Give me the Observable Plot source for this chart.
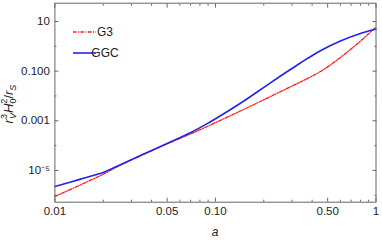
<!DOCTYPE html>
<html><head><meta charset="utf-8">
<script src="https://cdn.jsdelivr.net/npm/d3@7"></script>
<script src="https://cdn.jsdelivr.net/npm/@observablehq/plot@0.6"></script>
<style>body{margin:0;background:#fff}</style>
</head><body><div id="chart"></div>
<script>
// GGC (blue, solid)
const ggcA = [0.01, 0.01443, 0.02016, 0.02442, 0.03412, 0.05499, 0.06987, 0.08878, 0.1126, 0.1431, 0.1818, 0.2201, 0.2728, 0.3382, 0.4506, 0.6002, 0.7995, 1];
const ggcV = [2.265e-6, 4.46e-6, 8.45e-6, 1.47e-5, 4.01e-5, 1.61e-4, 3.30e-4, 7.66e-4, 1.92e-3, 5.08e-3, 0.01449, 0.03396, 0.0859, 0.2133, 0.667, 1.64, 3.28, 4.99];
// G3 (red, dash-dot)
const g3A = [0.01, 0.02016, 0.02442, 0.03412, 0.05499, 0.06987, 0.08878, 0.1126, 0.1431, 0.1818, 0.2201, 0.3382, 0.3904, 0.4506, 0.5200, 0.6002, 0.6929, 0.7995, 0.8968, 1];
const g3V = [8.95e-7, 7.21e-6, 1.41e-5, 3.90e-5, 1.54e-4, 2.94e-4, 5.90e-4, 1.205e-3, 2.48e-3, 5.22e-3, 9.53e-3, 0.0366, 0.0582, 0.0968, 0.177, 0.355, 0.745, 1.61, 3.14, 6.00];

const seriesNames = ["G3", "GGC"];
const seriesColors = ["#ff1a1a", "#2222ee"];

const xTicks = [0.01, 0.05, 0.1, 0.5, 1];
const xTickLabels = ["0.01", "0.05", "0.10", "0.50", "1"];
const xMinor = [0.02, 0.03, 0.04, 0.06, 0.07, 0.08, 0.09, 0.2, 0.3, 0.4, 0.6, 0.7, 0.8, 0.9];
const yTicks = [1e-5, 1e-3, 1e-1, 10];
const yTickLabels = ["10\u207B\u2075", "0.001", "0.100", "10"];
const yMinor = [1e-6, 1e-4, 1e-2, 1];

const g3 = g3A.map((a, i) => ({a, v: g3V[i], s: seriesNames[0]}));
const ggc = ggcA.map((a, i) => ({a, v: ggcV[i], s: seriesNames[1]}));

const fmtX = d => xTickLabels[xTicks.findIndex(t => Math.abs(t - d) < 1e-9 * t)] ?? "";
const fmtY = d => yTickLabels[yTicks.findIndex(t => Math.abs(t - d) < 1e-9 * t)] ?? "";
const tc = "#666";
const empty = () => "";

const tickAxes = [];
for (const anchor of ["bottom", "top"]) {
  tickAxes.push(Plot.axisX({anchor, ticks: xTicks, tickSize: -4, tickFormat: empty, stroke: tc, label: null}));
  tickAxes.push(Plot.axisX({anchor, ticks: xMinor, tickSize: -2, tickFormat: empty, stroke: tc, label: null}));
}
for (const anchor of ["left", "right"]) {
  tickAxes.push(Plot.axisY({anchor, ticks: yTicks, tickSize: -4, tickFormat: empty, stroke: tc, label: null}));
  tickAxes.push(Plot.axisY({anchor, ticks: yMinor, tickSize: -2, tickFormat: empty, stroke: tc, label: null}));
}

const chart = Plot.plot({
  width: 382, height: 240,
  marginLeft: 54.4, marginRight: 6.5, marginTop: 2.7, marginBottom: 38.3,
  style: {fontFamily: "Liberation Sans, Arial, sans-serif", fontSize: "11.5px", color: "#222", background: "#fff"},
  x: {type: "log", domain: [0.01, 1]},
  y: {type: "log", domain: [5.25e-7, 54.6]},
  marks: [
    ...tickAxes,
    Plot.axisX({anchor: "bottom", ticks: xTicks, tickSize: 0, tickPadding: 5, tickFormat: fmtX, label: null, fill: "#222"}),
    Plot.axisY({anchor: "left", ticks: yTicks, tickSize: 0, tickPadding: 5, tickFormat: fmtY, label: null, fill: "#222"}),
    Plot.line(g3, {x: "a", y: "v", stroke: seriesColors[0], strokeWidth: 1.3, strokeDasharray: "3.5,1.5,1,1.5", curve: "catmull-rom"}),
    Plot.line(ggc, {x: "a", y: "v", stroke: seriesColors[1], strokeWidth: 1.6, curve: "catmull-rom"}),
    Plot.frame({stroke: tc})
  ]
});
document.getElementById("chart").appendChild(chart);

const svg = d3.select(chart);
// legend
const leg = svg.append("g").attr("font-family", "Liberation Sans, Arial, sans-serif").attr("font-size", 12);
seriesNames.forEach((name, i) => {
  const y = 32 + i * 21;
  leg.append("line").attr("x1", 73).attr("x2", 96).attr("y1", y).attr("y2", y)
    .attr("stroke", seriesColors[i]).attr("stroke-width", i ? 1.6 : 1.3)
    .attr("stroke-dasharray", i ? null : "3.5,1.5,1,1.5");
  leg.append("text").attr("x", 105).attr("y", y).attr("dy", "0.35em").attr("fill", "#222").text(name);
});
// x label
svg.append("text").attr("x", 215).attr("y", 236).attr("text-anchor", "middle")
  .attr("font-family", "Liberation Sans, Arial, sans-serif").attr("font-size", 12)
  .attr("font-style", "italic").attr("fill", "#222").text("a");
// y label
const yl = svg.append("text").attr("transform", "translate(12.5,104) rotate(-90)").attr("text-anchor", "middle")
  .attr("font-family", "Liberation Sans, Arial, sans-serif").attr("font-size", 13).attr("fill", "#222");
yl.append("tspan").attr("font-style", "italic").text("r");
yl.append("tspan").attr("font-size", 9).attr("dy", -5.5).text("3");
yl.append("tspan").attr("font-size", 9).attr("font-style", "italic").attr("dx", -5).attr("dy", 9).text("V");
yl.append("tspan").attr("font-style", "italic").attr("dy", -3.5).text("H");
yl.append("tspan").attr("font-size", 9).attr("dy", -5.5).text("2");
yl.append("tspan").attr("font-size", 9).attr("dx", -5).attr("dy", 9).text("0");
yl.append("tspan").attr("dy", -3.5).text("/");
yl.append("tspan").attr("font-style", "italic").text("r");
yl.append("tspan").attr("font-size", 9).attr("font-style", "italic").attr("dy", 3).text("S");
</script>
</body></html>
